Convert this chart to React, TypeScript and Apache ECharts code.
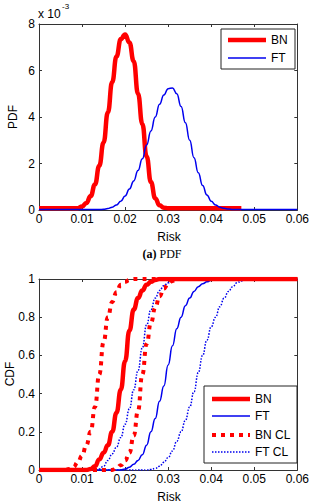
import React, { useEffect, useRef } from "react";
import * as echarts from "echarts";

// Risk grid (x values)
const risk = [
  0, 0.001, 0.002, 0.003, 0.004, 0.005, 0.006, 0.007, 0.008, 0.009,
  0.01, 0.011, 0.012, 0.013, 0.014, 0.015, 0.016, 0.017, 0.018, 0.019,
  0.02, 0.021, 0.022, 0.023, 0.024, 0.025, 0.026, 0.027, 0.028, 0.029,
  0.03, 0.031, 0.032, 0.033, 0.034, 0.035, 0.036, 0.037, 0.038, 0.039,
  0.04, 0.041, 0.042, 0.043, 0.044, 0.045, 0.046, 0.047, 0.048, 0.049,
  0.05, 0.051, 0.052, 0.053, 0.054, 0.055, 0.056, 0.057, 0.058, 0.059,
  0.06,
];

// PDF values (x 10^-3)
const pdfBN = [
  0.08, 0.08, 0.08, 0.08, 0.08, 0.08, 0.08, 0.08, 0.08, 0.08,
  0.15, 0.3, 0.6, 1.1, 1.9, 2.9, 4.2, 5.5, 6.6, 7.35,
  7.55, 7.2, 6.4, 5.0, 3.7, 2.3, 1.2, 0.5, 0.2, 0.1,
  0.08, 0.08, 0.08, 0.08, 0.08, 0.08, 0.08, 0.08, 0.08, 0.08,
  0.08, 0.08, 0.08, 0.08, 0.08, 0.08, 0.08, 0.08, null, null,
  null, null, null, null, null, null, null, null, null, null,
  null,
];
const pdfFT = [
  0.02, 0.02, 0.02, 0.02, 0.02, 0.02, 0.02, 0.02, 0.02, 0.02,
  0.02, 0.02, 0.02, 0.02, 0.02, 0.03, 0.06, 0.12, 0.22, 0.38,
  0.6, 0.9, 1.25, 1.7, 2.2, 2.8, 3.4, 4.0, 4.55, 4.95,
  5.22, 5.25, 5.0, 4.45, 3.75, 3.0, 2.25, 1.6, 1.05, 0.65,
  0.38, 0.22, 0.12, 0.07, 0.04, 0.02, 0.02, 0.02, 0.02, 0.02,
  0.02, 0.02, 0.02, 0.02, 0.02, 0.02, 0.02, 0.02, 0.02, 0.02,
  0.02,
];

// CDF values
const cdfBN = [
  0, 0, 0, 0, 0, 0, 0, 0, 0, 0,
  0, 0, 0.005, 0.02, 0.055, 0.09, 0.13, 0.2, 0.3, 0.42,
  0.57, 0.73, 0.84, 0.9, 0.94, 0.97, 0.985, 0.995, 1, 1,
  1, 1, 1, 1, 1, 1, 1, 1, 1, 1,
  1, 1, 1, 1, 1, 1, 1, 1, 1, 1,
  1, 1, 1, 1, 1, 1, 1, 1, 1, 1,
  1,
];
const cdfFT = [
  0, 0, 0, 0, 0, 0, 0, 0, 0, 0,
  0, 0, 0, 0, 0, 0, 0, 0, 0, 0,
  0.005, 0.015, 0.03, 0.05, 0.08, 0.13, 0.2, 0.27, 0.36, 0.44,
  0.55, 0.65, 0.74, 0.8, 0.86, 0.9, 0.935, 0.96, 0.975, 0.985,
  0.993, 0.998, 1, 1, 1, 1, 1, 1, 1, 1,
  1, 1, 1, 1, 1, 1, 1, 1, 1, 1,
  1,
];
const cdfBNLow = [
  0, 0, 0, 0, 0, 0, 0, 0.005, 0.015, 0.04,
  0.075, 0.13, 0.2, 0.33, 0.5, 0.67, 0.8, 0.88, 0.93, 0.97,
  0.985, 0.995, 1, 1, 1, 1, 1, 1, 1, 1,
  1, 1, 1, 1, 1, 1, 1, 1, 1, 1,
  1, 1, 1, 1, 1, 1, 1, 1, 1, 1,
  1, 1, 1, 1, 1, 1, 1, 1, 1, 1,
  1,
];
const cdfBNHigh = [
  0, 0, 0, 0, 0, 0, 0, 0, 0, 0,
  0, 0, 0, 0, 0, 0, 0, 0, 0.01, 0.025,
  0.05, 0.09, 0.18, 0.31, 0.5, 0.66, 0.77, 0.85, 0.91, 0.95,
  0.975, 0.99, 1, 1, 1, 1, 1, 1, 1, 1,
  1, 1, 1, 1, 1, 1, 1, 1, 1, 1,
  1, 1, 1, 1, 1, 1, 1, 1, 1, 1,
  1,
];
const cdfFTLow = [
  0, 0, 0, 0, 0, 0, 0, 0, 0, 0,
  0, 0, 0, 0, 0.005, 0.02, 0.05, 0.085, 0.12, 0.17,
  0.24, 0.32, 0.42, 0.52, 0.64, 0.76, 0.84, 0.9, 0.94, 0.965,
  0.98, 0.99, 0.995, 1, 1, 1, 1, 1, 1, 1,
  1, 1, 1, 1, 1, 1, 1, 1, 1, 1,
  1, 1, 1, 1, 1, 1, 1, 1, 1, 1,
  1,
];
const cdfFTHigh = [
  0, 0, 0, 0, 0, 0, 0, 0, 0, 0,
  0, 0, 0, 0, 0, 0, 0, 0, 0, 0,
  0, 0, 0, 0, 0, 0, 0.003, 0.008, 0.02, 0.04,
  0.065, 0.1, 0.15, 0.2, 0.26, 0.33, 0.41, 0.51, 0.6, 0.68,
  0.75, 0.8, 0.855, 0.9, 0.935, 0.96, 0.98, 0.99, 1, 1,
  1, 1, 1, 1, 1, 1, 1, 1, 1, 1,
  1,
];

const RED = "#ff0000";
const BLUE = "#0000ee";
const AXIS = "#333333";
const FONT = "'Liberation Sans', Arial, sans-serif";
const SERIF = "'Liberation Serif', 'Times New Roman', serif";

const pairs = (arr: (number | null)[]) => risk.map((r, i) => [r, arr[i]]);

const fmtX = (v: number) => (v === 0 ? "0" : String(parseFloat(v.toFixed(3))));
const fmtY = (v: number) => String(parseFloat(v.toFixed(2)));

function mkX(gridIndex: number, position: string, labels: boolean) {
  return {
    type: "value",
    gridIndex,
    position,
    min: 0,
    max: 0.06,
    interval: 0.01,
    axisLine: { show: true, onZero: false, lineStyle: { color: AXIS, width: 1 } },
    axisTick: { show: true, inside: true, length: 3, lineStyle: { color: AXIS } },
    axisLabel: { show: labels, margin: 3, color: "#000", fontSize: 12, fontFamily: FONT, formatter: fmtX },
    splitLine: { show: false },
  };
}
function mkY(gridIndex: number, position: string, labels: boolean, max: number, interval: number) {
  return {
    type: "value",
    gridIndex,
    position,
    min: 0,
    max,
    interval,
    axisLine: { show: true, onZero: false, lineStyle: { color: AXIS, width: 1 } },
    axisTick: { show: true, inside: true, length: 3, lineStyle: { color: AXIS } },
    axisLabel: { show: labels, margin: 4, color: "#000", fontSize: 12, fontFamily: FONT, formatter: fmtY },
    splitLine: { show: false },
  };
}

function line(name: string, x: number, y: number, data: (number | null)[], color: string, width: number, type: any = "solid", z = 2) {
  return {
    name,
    type: "line",
    xAxisIndex: x,
    yAxisIndex: y,
    data: pairs(data),
    showSymbol: false,
    smooth: 0.5,
    smoothMonotone: "x",
    connectNulls: false,
    z,
    lineStyle: { color, width, type, cap: "butt" },
    itemStyle: { color },
  };
}

function legendItem(x: number, y: number, label: string, color: string, width: number, dash?: number[]) {
  return [
    {
      type: "line",
      shape: { x1: x, y1: y, x2: x + 38, y2: y },
      style: { stroke: color, lineWidth: width, lineDash: dash || null, lineCap: "butt" },
      z: 101,
    },
    {
      type: "text",
      x: x + 43,
      y,
      style: { text: label, fill: "#000", font: `12px ${FONT}`, verticalAlign: "middle" },
      z: 101,
    },
  ];
}

export default function App() {
  const ref = useRef<HTMLDivElement>(null);
  useEffect(() => {
    if (!ref.current) return;
    const chart = echarts.init(ref.current, undefined, { renderer: "svg" });
    const option: any = {
      animation: false,
      backgroundColor: "#ffffff",
      textStyle: { fontFamily: FONT },
      grid: [
        { left: 39, top: 24, width: 260, height: 186 },
        { left: 39, top: 279, width: 260, height: 191 },
      ],
      xAxis: [mkX(0, "bottom", true), mkX(0, "top", false), mkX(1, "bottom", true), mkX(1, "top", false)],
      yAxis: [
        mkY(0, "left", true, 8, 2),
        mkY(0, "right", false, 8, 2),
        mkY(1, "left", true, 1, 0.2),
        mkY(1, "right", false, 1, 0.2),
      ],
      series: [
        line("BN", 0, 0, pdfBN, RED, 4.5),
        line("FT", 0, 0, pdfFT, BLUE, 1.5, "solid", 3),
        line("FT CL low", 2, 2, cdfFTLow, BLUE, 1.5, [1.5, 1.5]),
        line("FT CL high", 2, 2, cdfFTHigh, BLUE, 1.5, [1.5, 1.5]),
        line("FT", 2, 2, cdfFT, BLUE, 1.5),
        line("BN CL low", 2, 2, cdfBNLow, RED, 4, [4, 5]),
        line("BN CL high", 2, 2, cdfBNHigh, RED, 4, [4, 5]),
        line("BN", 2, 2, cdfBN, RED, 4.5),
      ],
      graphic: [
        // multiplier
        { type: "text", x: 38, y: 14, style: { text: "x 10", fill: "#000", font: `12px ${FONT}`, verticalAlign: "middle" } },
        { type: "text", x: 62, y: 6, style: { text: "-3", fill: "#000", font: `8px ${FONT}`, verticalAlign: "middle" } },
        // axis names
        { type: "text", x: 13, y: 117, rotation: Math.PI / 2, style: { text: "PDF", fill: "#000", font: `12px ${FONT}`, align: "center", verticalAlign: "middle" } },
        { type: "text", x: 169, y: 237, style: { text: "Risk", fill: "#000", font: `12px ${FONT}`, align: "center", verticalAlign: "middle" } },
        { type: "text", x: 10, y: 374, rotation: Math.PI / 2, style: { text: "CDF", fill: "#000", font: `12px ${FONT}`, align: "center", verticalAlign: "middle" } },
        { type: "text", x: 169, y: 497, style: { text: "Risk", fill: "#000", font: `12px ${FONT}`, align: "center", verticalAlign: "middle" } },
        // caption
        {
          type: "text",
          x: 162,
          y: 254,
          style: {
            text: "{b|(a)} PDF",
            fill: "#000",
            font: `12px ${SERIF}`,
            align: "center",
            verticalAlign: "middle",
            rich: { b: { fontWeight: "bold", fontFamily: SERIF, fontSize: 12 } },
          },
        },
        // top legend
        { type: "rect", shape: { x: 221, y: 29, width: 74, height: 40 }, style: { fill: "#fff", stroke: "#222", lineWidth: 1 }, z: 100 },
        ...legendItem(228, 40, "BN", RED, 4.5),
        ...legendItem(228, 58, "FT", BLUE, 1.5),
        // bottom legend
        { type: "rect", shape: { x: 204, y: 386, width: 93, height: 77 }, style: { fill: "#fff", stroke: "#222", lineWidth: 1 }, z: 100 },
        ...legendItem(212, 399, "BN", RED, 4.5),
        ...legendItem(212, 416, "FT", BLUE, 1.5),
        ...legendItem(212, 435, "BN CL", RED, 4, [4, 5]),
        ...legendItem(212, 452, "FT CL", BLUE, 1.5, [1.5, 1.5]),
      ],
    };
    chart.setOption(option);
    return () => chart.dispose();
  }, []);
  return (
    <div
      ref={ref}
      style={{ position: "absolute", left: 0, top: 0, width: 312, height: 503, background: "#fff" }}
    />
  );
}
